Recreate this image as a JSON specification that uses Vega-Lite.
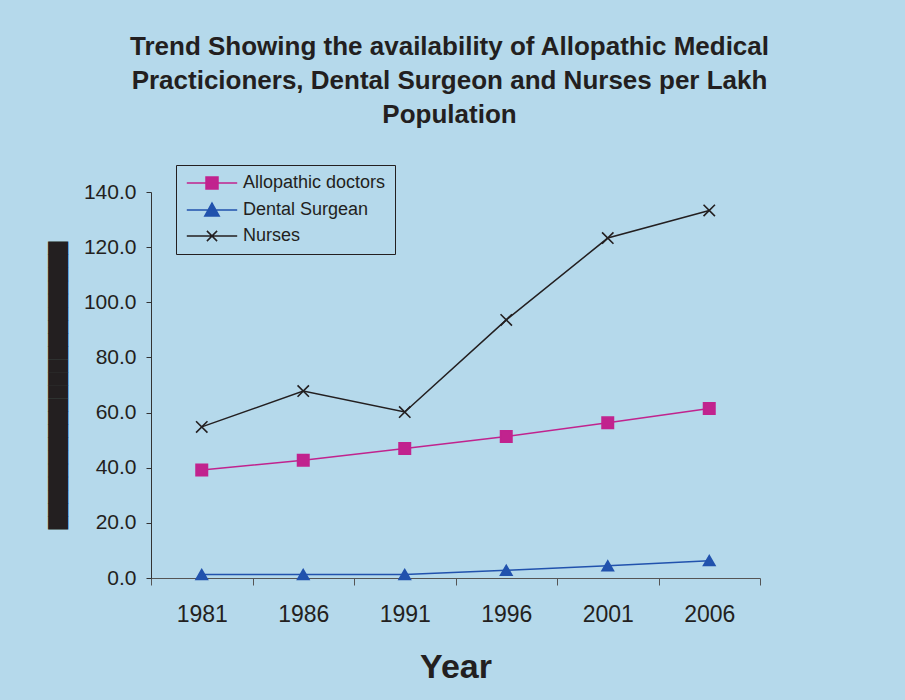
{
  "$schema": "https://vega.github.io/schema/vega-lite/v6.json",
  "width": 609,
  "height": 386,
  "autosize": {"type": "none"},
  "padding": {"left": 151, "top": 192, "right": 145, "bottom": 122},
  "background": "#b5d9eb",
  "title": {
    "text": ["Trend Showing the availability of Allopathic Medical", "Practicioners, Dental Surgeon and Nurses per Lakh", "Population"],
    "font": "Liberation Sans",
    "fontSize": 26,
    "fontWeight": "bold",
    "lineHeight": 34,
    "color": "#231f20",
    "anchor": "middle",
    "frame": "group",
    "dx": -6,
    "offset": 37
  },
  "data": {
    "values": [
      {"year": "1981", "series": "Allopathic doctors", "value": 39.2},
      {"year": "1986", "series": "Allopathic doctors", "value": 42.7},
      {"year": "1991", "series": "Allopathic doctors", "value": 47.0},
      {"year": "1996", "series": "Allopathic doctors", "value": 51.3},
      {"year": "2001", "series": "Allopathic doctors", "value": 56.3},
      {"year": "2006", "series": "Allopathic doctors", "value": 61.5},
      {"year": "1981", "series": "Dental Surgean", "value": 1.3},
      {"year": "1986", "series": "Dental Surgean", "value": 1.3},
      {"year": "1991", "series": "Dental Surgean", "value": 1.3},
      {"year": "1996", "series": "Dental Surgean", "value": 2.8},
      {"year": "2001", "series": "Dental Surgean", "value": 4.4},
      {"year": "2006", "series": "Dental Surgean", "value": 6.3},
      {"year": "1981", "series": "Nurses", "value": 54.8},
      {"year": "1986", "series": "Nurses", "value": 67.8},
      {"year": "1991", "series": "Nurses", "value": 60.2},
      {"year": "1996", "series": "Nurses", "value": 93.6},
      {"year": "2001", "series": "Nurses", "value": 123.3},
      {"year": "2006", "series": "Nurses", "value": 133.3}
    ]
  },
  "encoding": {
    "x": {
      "field": "year",
      "type": "ordinal",
      "bandPosition": 0.5,
      "scale": {"type": "band", "paddingInner": 0, "paddingOuter": 0},
      "axis": {
        "title": "Year",
        "titleFont": "Liberation Sans",
        "titleFontSize": 34,
        "titleFontWeight": "bold",
        "titleColor": "#231f20",
        "titlePadding": 24,
        "labelAngle": 0,
        "labelFont": "Liberation Sans",
        "labelFontSize": 23,
        "labelColor": "#231f20",
        "labelPadding": 18,
        "tickBand": "extent",
        "tickSize": 7,
        "tickColor": "#555555",
        "domainColor": "#555555",
        "grid": false
      }
    },
    "y": {
      "field": "value",
      "type": "quantitative",
      "scale": {"domain": [0, 140], "nice": false},
      "axis": {
        "values": [0, 20, 40, 60, 80, 100, 120, 140],
        "format": ".1f",
        "grid": false,
        "labelFont": "Liberation Sans",
        "labelFontSize": 21,
        "labelColor": "#231f20",
        "labelPadding": 10,
        "tickSize": 5,
        "tickColor": "#333333",
        "domainColor": "#333333",
        "title": "██████████████████████",
        "titleFont": "DejaVu Sans",
        "titleFontSize": 17,
        "titleFontWeight": "normal",
        "titleColor": "#231f20",
        "titlePadding": 16
      }
    },
    "color": {
      "field": "series",
      "type": "nominal",
      "scale": {"domain": ["Allopathic doctors", "Dental Surgean", "Nurses"], "range": ["#c1238e", "#2152ad", "#231f20"]},
      "legend": {
        "title": null,
        "orient": "none",
        "legendX": 25,
        "legendY": -27,
        "strokeColor": "#231f20",
        "padding": 9,
        "labelFont": "Liberation Sans",
        "labelFontSize": 18,
        "labelColor": "#231f20",
        "labelOffset": 22,
        "symbolOffset": 18,
        "rowPadding": 8,
        "symbolSize": 144,
        "symbolStrokeWidth": 1.5,
        "encode": {
          "symbols": {
            "update": {
              "shape": {"signal": "datum.value === 'Nurses' ? 'M-4.2,0H4.2M-0.85,-0.85L0.85,0.85M-0.85,0.85L0.85,-0.85' : datum.value === 'Dental Surgean' ? 'M-4.2,0H4.2M0,-1.15L1.2,1H-1.2Z' : 'M-4.2,0H4.2M-1,-1H1V1H-1Z'"},
              "fill": {"signal": "datum.value === 'Nurses' ? '#231f20' : datum.value === 'Dental Surgean' ? '#2152ad' : '#c1238e'"},
              "stroke": {"signal": "datum.value === 'Nurses' ? '#231f20' : datum.value === 'Dental Surgean' ? '#2152ad' : '#c1238e'"},
              "strokeWidth": {"value": 1.5},
              "opacity": {"value": 1}
            }
          }
        }
      }
    }
  },
  "layer": [
    {"mark": {"type": "line", "strokeWidth": 1.5}},
    {
      "mark": {"type": "point", "filled": true, "opacity": 1, "size": 130, "strokeWidth": 1.6},
      "encoding": {
        "shape": {
          "condition": [
            {"test": "datum.series === 'Nurses'", "value": "M-1,-1L1,1M-1,1L1,-1"},
            {"test": "datum.series === 'Dental Surgean'", "value": "triangle-up"}
          ],
          "value": "square"
        },
        "stroke": {
          "condition": [
            {"test": "datum.series === 'Nurses'", "value": "#231f20"},
            {"test": "datum.series === 'Dental Surgean'", "value": "#2152ad"}
          ],
          "value": "#c1238e"
        }
      }
    }
  ],
  "config": {"view": {"stroke": null}}
}
